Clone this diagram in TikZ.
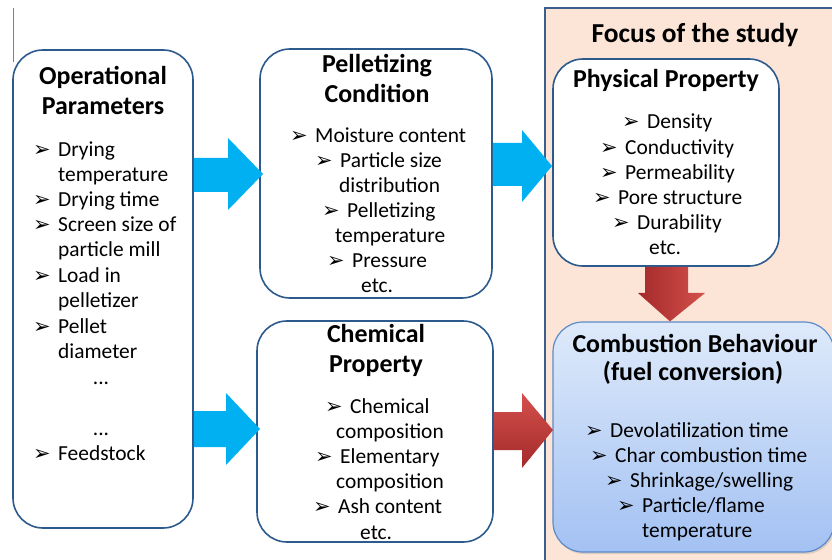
\documentclass[tikz,border=0pt]{standalone}
\usepackage{fontspec}
\setmainfont{Carlito}
\newfontfamily\dvfont{DejaVu Sans}
\usetikzlibrary{shadows}
\definecolor{boxline}{HTML}{2C5A8C}
\definecolor{focusfill}{HTML}{FCE5D6}
\definecolor{focusline}{HTML}{3A5F8E}
\definecolor{arrowblue}{HTML}{00B0F0}
\definecolor{redlight}{HTML}{D4504C}
\definecolor{reddark}{HTML}{A32A2A}
\definecolor{cbtop}{HTML}{DEEAFA}
\definecolor{cbbot}{HTML}{A3C1F3}
\definecolor{cbline}{HTML}{5B8BC8}
\tikzset{
  box/.style={draw=boxline, line width=1.6bp, rounded corners=30bp, fill=white, inner sep=0},
  ttl/.style={font=\fontsize{26}{30}\selectfont\bfseries, anchor=base, inner sep=0},
  itm/.style={font=\fontsize{21.5}{25}\selectfont, anchor=base west, inner sep=0},
  ctr/.style={font=\fontsize{21.5}{25}\selectfont, anchor=base, inner sep=0},
}
\newcommand\bul{\makebox[25bp][l]{\raisebox{0bp}{\dvfont\fontsize{21}{21}\selectfont ➢}}}
\begin{document}
\begin{tikzpicture}[x=1bp,y=-1bp]
\useasboundingbox (0,0) rectangle (832,560);
\fill[white] (0,0) rectangle (832,560);
% focus region
\fill[focusfill] (545,8) rectangle (860,590);
\draw[focusline, line width=1.6bp] (545,590) -- (545,8) -- (860,8);
% stray gray line
\draw[gray, line width=1bp] (13,8) -- (13,62);
% boxes
\node[box, minimum width=180bp, minimum height=478bp] (op) at (103,289) {};
\node[box, minimum width=232bp, minimum height=249bp] (pc) at (376,173.5) {};
\node[box, minimum width=236bp, minimum height=221bp] (cp) at (375,431.5) {};
\node[box, minimum width=226bp, minimum height=207bp] (pp) at (666,162.5) {};
\node[box, draw=cbline, line width=1.2bp, top color=cbtop, bottom color=cbbot,
      drop shadow={opacity=0.25, shadow xshift=1.5bp, shadow yshift=-2bp},
      minimum width=281bp, minimum height=230bp] (cb) at (693.5,437) {};
% blue arrows
\fill[arrowblue] (op.east |- 0,158) -- (228,158) -- (228,138) -- (263,174) -- (228,210) -- (228,192) -- (op.east |- 0,192) -- cycle;
\fill[arrowblue] (op.east |- 0,411) -- (226,411) -- (226,393) -- (260,429) -- (226,465) -- (226,447) -- (op.east |- 0,447) -- cycle;
\fill[arrowblue] (pc.east |- 0,143) -- (522,143) -- (522,130) -- (552,166) -- (522,202) -- (522,186) -- (pc.east |- 0,186) -- cycle;
% red arrows
\shade[top color=redlight, bottom color=reddark] (cp.east |- 0,412) -- (522,412) -- (522,393) -- (553,430) -- (522,468) -- (522,450) -- (cp.east |- 0,450) -- cycle;
\shade[left color=reddark, right color=redlight] (645,0 |- pp.south) -- (688,0 |- pp.south) -- (688,293) -- (705,293) -- (670,0 |- cb.north) -- (638,293) -- (645,293) -- cycle;
% texts: operational parameters
\node[ttl] (op1) at (103,85) {Operational};
\node[ttl] (op2) at (103,115) {Parameters};
\node[itm] (op3) at (33,157) {\bul Drying};
\node[itm] (op4) at (58,182) {temperature};
\node[itm] (op5) at (33,207) {\bul Drying time};
\node[itm] (op6) at (33,232) {\bul Screen size of};
\node[itm] (op7) at (58,257) {particle mill};
\node[itm] (op8) at (33,283) {\bul Load in};
\node[itm] (op9) at (58,308) {pelletizer};
\node[itm] (op10) at (33,333) {\bul Pellet};
\node[itm] (op11) at (58,358) {diameter};
\node[ctr] (op12) at (101,384) {...};
\node[ctr] (op13) at (101,435) {...};
\node[itm] (op14) at (33,460) {\bul Feedstock};
% pelletizing condition
\node[ttl] (pc1) at (377,73) {Pelletizing};
\node[ttl] (pc2) at (377,103) {Condition};
\node[itm] (pc3) at (290,143) {\bul Moisture content};
\node[itm] (pc4) at (315,168) {\bul Particle size};
\node[itm] (pc5) at (339,193) {distribution};
\node[itm] (pc6) at (322,218) {\bul Pelletizing};
\node[itm] (pc7) at (335,243) {temperature};
\node[itm] (pc8) at (327,268) {\bul Pressure};
\node[itm] (pc9) at (361,293) {etc.};
% chemical property
\node[ttl] (cp1) at (376,342) {Chemical};
\node[ttl] (cp2) at (376,372) {Property};
\node[itm] (cp3) at (325,413) {\bul Chemical};
\node[itm] (cp4) at (336,438) {composition};
\node[itm] (cp5) at (315,463) {\bul Elementary};
\node[itm] (cp6) at (336,488) {composition};
\node[itm] (cp7) at (313,513) {\bul Ash content};
\node[itm] (cp8) at (360,539) {etc.};
% focus + physical
\node[ttl, font=\fontsize{27.5}{30}\selectfont\bfseries] (fs) at (695,43) {Focus of the study};
\node[ttl] (pp1) at (666,88) {Physical Property};
\node[itm] (pp2) at (622,129) {\bul Density};
\node[itm] (pp3) at (600,155) {\bul Conductivity};
\node[itm] (pp4) at (600,180) {\bul Permeability};
\node[itm] (pp5) at (593,205) {\bul Pore structure};
\node[itm] (pp6) at (612,230) {\bul Durability};
\node[itm] (pp7) at (649,255) {etc.};
% combustion
\node[ttl] (cb1) at (695,352) {Combustion Behaviour};
\node[ttl] (cb2) at (693,380) {(fuel conversion)};
\node[itm] (cb3) at (585,437) {\bul Devolatilization time};
\node[itm] (cb4) at (590,462) {\bul Char combustion time};
\node[itm] (cb5) at (605,487) {\bul Shrinkage/swelling};
\node[itm] (cb6) at (617,512) {\bul Particle/flame};
\node[itm] (cb7) at (642,537) {temperature};
\end{tikzpicture}
\end{document}
